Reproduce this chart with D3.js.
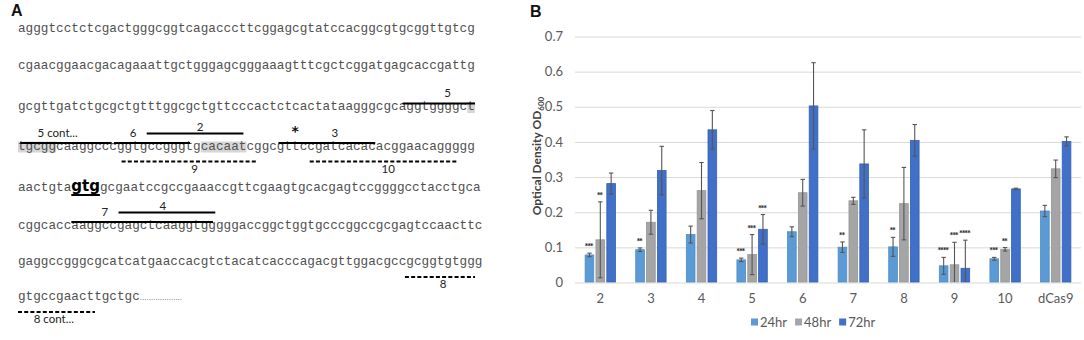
<!DOCTYPE html>
<html>
<head>
<meta charset="utf-8">
<script src="https://cdn.jsdelivr.net/npm/d3@7"></script>
<style>
  body { margin: 0; background: #fff; }
  svg { display: block; }
</style>
</head>
<body>
<svg id="fig" width="1084" height="340"></svg>
<script>
// ---------- Panel A: sequence and its marked regions ----------
const seqLines = [
  "agggtcctctcgactgggcggtcagacccttcggagcgtatccacggcgtgcggttgtcg",
  "cgaacggaacgacagaaattgctgggagcgggaaagtttcgctcggatgagcaccgattg",
  "gcgttgatctgcgctgtttggcgctgttcccactctcactataagggcgcaggtggggct",
  "tgcggcaaggcccggtgccgggtgcacaatcggcgttccgatcacacacggaacaggggg",
  "aactgtagtggcgaatccgccgaaaccgttcgaagtgcacgagtccggggcctacctgca",
  "cggcaccaaggccgagctcaaggtgggggaccggctggtgcccggccgcgagtccaacttc",
  "gaggccgggcgcatcatgaaccacgtctacatcacccagacgttggacgccgcggtgtggg",
  "gtgccgaacttgctgc"
];
// start codon shown bold (line index, first char, char after last)
const startCodon = { line: 4, from: 7, to: 10 };
// shaded bases
const shaded = [
  { line: 2, from: 59, to: 60 },
  { line: 3, from: 0, to: 5 },
  { line: 3, from: 24, to: 30 }
];
// guide marks: solid = above the strand, dashed = below
const guides = [
  { label: "5",         line: 2, from: 50.5, to: 60,   level: "above1", at: 56.4 },
  { label: "5 cont...", line: 3, from: 0.3,  to: 12.3, level: "above1", at: 5.2 },
  { label: "6",         line: 3, from: 12.6, to: 22.6, level: "above1", at: 15.1 },
  { label: "2",         line: 3, from: 16.9, to: 29.6, level: "above2", at: 23.9 },
  { label: "3",         line: 3, from: 34.2, to: 46.9, level: "above1", at: 41.6 },
  { label: "9",         line: 3, from: 13.6, to: 31.5, level: "below",  at: 23.2 },
  { label: "10",        line: 3, from: 38.3, to: 57.8, level: "below",  at: 48.6 },
  { label: "4",         line: 5, from: 13.2, to: 25.9, level: "above2", at: 19.0 },
  { label: "7",         line: 5, from: 7.0,  to: 25.6, level: "above1", at: 11.4 },
  { label: "8",         line: 6, from: 50.8, to: 60,   level: "below",  at: 55.8 },
  { label: "8 cont...", line: 7, from: 0,    to: 10.1, level: "below",  at: 4.7 }
];
const starMark = { line: 3, at: 36.4 };

// ---------- Panel B: OD600 by guide and time ----------
const categories = ["2", "3", "4", "5", "6", "7", "8", "9", "10", "dCas9"];
const seriesNames = ["24hr", "48hr", "72hr"];
const od24  = [0.077, 0.092, 0.135, 0.063, 0.143, 0.099, 0.100, 0.046, 0.066, 0.202];
const err24 = [0.005, 0.005, 0.024, 0.005, 0.014, 0.015, 0.027, 0.024, 0.004, 0.016];
const od48  = [0.120, 0.170, 0.260, 0.078, 0.254, 0.231, 0.223, 0.049, 0.093, 0.322];
const err48 = [0.108, 0.034, 0.080, 0.057, 0.038, 0.010, 0.103, 0.064, 0.005, 0.025];
const od72  = [0.280, 0.317, 0.433, 0.150, 0.501, 0.336, 0.403, 0.039, 0.265, 0.400];
const err72 = [0.030, 0.069, 0.055, 0.042, 0.123, 0.097, 0.045, 0.080, 0.002, 0.013];
const yTicks = [0, 0.1, 0.2, 0.3, 0.4, 0.5, 0.6, 0.7];
const signif = [
  { cat: "2",  series: "24hr", mark: "***" },
  { cat: "2",  series: "48hr", mark: "**" },
  { cat: "3",  series: "24hr", mark: "**" },
  { cat: "5",  series: "24hr", mark: "***" },
  { cat: "5",  series: "48hr", mark: "***" },
  { cat: "5",  series: "72hr", mark: "***" },
  { cat: "7",  series: "24hr", mark: "**" },
  { cat: "8",  series: "24hr", mark: "**" },
  { cat: "9",  series: "24hr", mark: "****" },
  { cat: "9",  series: "48hr", mark: "***" },
  { cat: "9",  series: "72hr", mark: "****" },
  { cat: "10", series: "24hr", mark: "***" },
  { cat: "10", series: "48hr", mark: "**" }
];

const svg = d3.select("#fig");
svg.append("rect").attr("width", 1084).attr("height", 340).attr("fill", "#fff");

const sans = "Lato, 'Open Sans', sans-serif";
const mono = "'Liberation Mono', 'DejaVu Sans Mono', monospace";

// panel letters
svg.append("text").attr("x", 11).attr("y", 16).text("A")
  .style("font", `bold 16px 'Liberation Sans', Arial, sans-serif`).attr("fill", "#111");
svg.append("text").attr("x", 530).attr("y", 16.5).text("B")
  .style("font", `bold 16px 'Liberation Sans', Arial, sans-serif`).attr("fill", "#111");

// ===== Panel A =====
const rowY = [31.5, 68.5, 110, 149.5, 190.5, 228.5, 265, 300]; // text baselines
const charX = d3.scaleLinear().domain([0, 60]).range([18, 475]);
const levelOff = {
  above1: { line: -6.5, label: -6.5 },
  above2: { line: -16,  label: -3 },
  below:  { line: 12,   label: 11 }
};

const panelA = svg.append("g");

// gray shading behind bases
panelA.selectAll("rect.shade")
  .data(shaded)
  .enter()
  .append("rect")
  .attr("class", "shade")
  .attr("x", d => charX(d.from))
  .attr("y", d => rowY[d.line] - 8)
  .attr("width", d => charX(d.to) - charX(d.from))
  .attr("height", 11)
  .attr("fill", "#d6d6d6");

// sequence rows
seqLines.forEach((s, i) => {
  const t = panelA.append("text")
    .attr("x", charX(0))
    .attr("y", rowY[i])
    .attr("fill", "#505050")
    .style("font-family", mono)
    .style("font-size", "12.7px");

  if (i === startCodon.line) {
    t.append("tspan").text(s.slice(0, startCodon.from));
    const b = t.append("tspan")
      .text(s.slice(startCodon.from, startCodon.to))
      .attr("fill", "#000")
      .style("font", "bold 15px 'DejaVu Sans', sans-serif");
    t.append("tspan").text(s.slice(startCodon.to));
    const bw = b.node().getComputedTextLength();
    const bx = charX(0) + t.node().getSubStringLength(0, startCodon.from);
    panelA.append("line")
      .attr("x1", bx).attr("x2", bx + bw)
      .attr("y1", rowY[i] + 4.5).attr("y2", rowY[i] + 4.5)
      .attr("stroke", "#000").attr("stroke-width", 2);
  } else if (i === seqLines.length - 1) {
    t.append("tspan").text(s);
    t.append("tspan").text("...................")
      .style("font", "8px 'Liberation Sans', sans-serif");
  } else {
    t.text(s);
  }
});

// guide lines
panelA.selectAll("line.guide")
  .data(guides)
  .enter()
  .append("line")
  .attr("class", "guide")
  .attr("x1", d => charX(d.from))
  .attr("x2", d => charX(d.to))
  .attr("y1", d => rowY[d.line] + levelOff[d.level].line)
  .attr("y2", d => rowY[d.line] + levelOff[d.level].line)
  .attr("stroke", "#000")
  .attr("stroke-width", d => d.level === "below" ? 2 : 1.8)
  .attr("stroke-dasharray", d => d.level === "below" ? "4,2.2" : null);

panelA.selectAll("text.guide-label")
  .data(guides)
  .enter()
  .append("text")
  .attr("class", "guide-label")
  .attr("x", d => charX(d.at))
  .attr("y", d => rowY[d.line] + levelOff[d.level].line + levelOff[d.level].label)
  .attr("text-anchor", "middle")
  .attr("fill", "#222")
  .style("font", `11.5px ${sans}`)
  .text(d => d.label);

panelA.append("text")
  .attr("x", charX(starMark.at))
  .attr("y", rowY[starMark.line] - 14)
  .attr("text-anchor", "middle")
  .style("font", "bold 14px 'DejaVu Sans', sans-serif")
  .attr("fill", "#111")
  .text("*");

// ===== Panel B =====
const plot = { left: 575, right: 1081, top: 36, bottom: 282 };
const color = d3.scaleOrdinal().domain(seriesNames).range(["#5b9bd5", "#a5a5a5", "#4170c8"]);
const edge = d3.scaleOrdinal().domain(seriesNames).range(["#4f8cc6", "#969696", "#345fb3"]);

const x0 = d3.scaleBand().domain(categories).range([plot.left, plot.right]);
const x1 = d3.scaleBand().domain(seriesNames)
  .range([x0.bandwidth() * 0.2, x0.bandwidth() * 0.8])
  .paddingInner(0.2);
const y = d3.scaleLinear().domain([0, 0.7]).range([plot.bottom, plot.top]);

const rows = categories.map((c, i) => ({
  cat: c,
  vals: [
    { s: "24hr", v: od24[i], e: err24[i] },
    { s: "48hr", v: od48[i], e: err48[i] },
    { s: "72hr", v: od72[i], e: err72[i] }
  ]
}));

// gridlines + y labels
const yAxis = svg.append("g")
  .attr("transform", `translate(${plot.left},0.5)`)
  .call(d3.axisLeft(y)
    .tickValues(yTicks)
    .tickSize(-(plot.right - plot.left))
    .tickPadding(12)
    .tickFormat(d => d === 0 ? "0" : d3.format(".1f")(d)));
yAxis.select(".domain").remove();
yAxis.selectAll("line").attr("stroke", "#d9d9d9");
yAxis.selectAll("text").attr("fill", "#595959").style("font", `13px ${sans}`);

// category labels
const xAxis = svg.append("g")
  .attr("transform", `translate(0,${plot.bottom})`)
  .call(d3.axisBottom(x0).tickSize(0).tickPadding(11.5));
xAxis.select(".domain").remove();
xAxis.selectAll("text").attr("fill", "#595959").style("font", `13px ${sans}`);

// bars
const groups = svg.selectAll("g.group")
  .data(rows)
  .enter()
  .append("g")
  .attr("class", "group")
  .attr("transform", d => `translate(${x0(d.cat)},0)`);

groups.selectAll("rect")
  .data(d => d.vals)
  .enter()
  .append("rect")
  .attr("x", d => x1(d.s))
  .attr("y", d => y(d.v))
  .attr("width", x1.bandwidth())
  .attr("height", d => y(0) - y(d.v))
  .attr("fill", d => color(d.s))
  .attr("stroke", d => edge(d.s))
  .attr("stroke-width", 0.8);

// error bars
const errG = groups.selectAll("g.err")
  .data(d => d.vals)
  .enter()
  .append("g")
  .attr("class", "err")
  .attr("stroke", "#555")
  .attr("stroke-width", 1.1);

errG.append("line")
  .attr("x1", d => x1(d.s) + x1.bandwidth() / 2)
  .attr("x2", d => x1(d.s) + x1.bandwidth() / 2)
  .attr("y1", d => y(d.v + d.e))
  .attr("y2", d => y(Math.max(0, d.v - d.e)));

errG.append("line")
  .attr("x1", d => x1(d.s) + x1.bandwidth() / 2 - 2.2)
  .attr("x2", d => x1(d.s) + x1.bandwidth() / 2 + 2.2)
  .attr("y1", d => y(d.v + d.e))
  .attr("y2", d => y(d.v + d.e));

errG.filter(d => d.v - d.e > 0)
  .append("line")
  .attr("x1", d => x1(d.s) + x1.bandwidth() / 2 - 2.2)
  .attr("x2", d => x1(d.s) + x1.bandwidth() / 2 + 2.2)
  .attr("y1", d => y(d.v - d.e))
  .attr("y2", d => y(d.v - d.e));

// significance stars
svg.selectAll("text.sig")
  .data(signif)
  .enter()
  .append("text")
  .attr("class", "sig")
  .attr("x", d => x0(d.cat) + x1(d.series) + x1.bandwidth() / 2 - 1)
  .attr("y", d => {
    const i = categories.indexOf(d.cat);
    const r = rows[i].vals.find(v => v.s === d.series);
    return y(r.v + r.e) - 3;
  })
  .attr("text-anchor", "middle")
  .attr("fill", "#222")
  .style("font", `bold 9px ${sans}`)
  .style("letter-spacing", "-1.2px")
  .text(d => d.mark);

// y title
svg.append("text")
  .attr("transform", "translate(541,156) rotate(-90)")
  .attr("text-anchor", "middle")
  .attr("fill", "#404040")
  .style("font", `bold 12px ${sans}`)
  .call(t => {
    t.append("tspan").text("Optical Density OD");
    t.append("tspan").attr("dy", 3).style("font-size", "8px").text("600");
  });

// legend
let lx = 751;
seriesNames.forEach(s => {
  svg.append("rect")
    .attr("x", lx).attr("y", 318.5)
    .attr("width", 7).attr("height", 7)
    .attr("fill", color(s));
  const t = svg.append("text")
    .attr("x", lx + 9).attr("y", 326.5)
    .attr("fill", "#595959")
    .style("font", `13px ${sans}`)
    .text(s);
  lx += 9 + t.node().getComputedTextLength() + 8;
});
</script>
</body>
</html>
